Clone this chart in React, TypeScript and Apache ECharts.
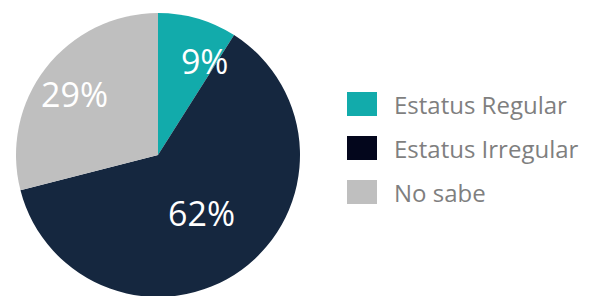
import React, { useEffect, useRef } from "react";
import * as echarts from "echarts";

const categories = ["Estatus Regular", "Estatus Irregular", "No sabe"];
const values = [9, 62, 29];
const sliceColors = ["#12abab", "#15273f", "#bfbfbf"];
const legendColors = ["#12abab", "#03061c", "#bfbfbf"];
const labelOffsets: [number, number][] = [[26, -23], [0, -2], [-25, -16]];

export default function App() {
  const ref = useRef<HTMLDivElement>(null);
  useEffect(() => {
    if (!ref.current) return;
    const chart = echarts.init(ref.current, null, { renderer: "svg" });
    chart.setOption({
      animation: false,
      backgroundColor: "#ffffff",
      legend: {
        orient: "vertical",
        left: 347,
        top: 92,
        padding: 0,
        itemWidth: 30,
        itemHeight: 24,
        itemGap: 20,
        icon: "rect",
        selectedMode: false,
        textStyle: {
          fontFamily: "Open Sans",
          fontSize: 24,
          color: "#7f7f7f",
          padding: [0, 0, 0, 12],
        },
        data: categories.map((c, i) => ({
          name: c,
          itemStyle: { color: legendColors[i] },
        })),
      },
      series: [
        {
          type: "pie",
          center: [158, 155],
          radius: 142,
          startAngle: 90,
          clockwise: true,
          label: {
            show: true,
            position: "inside",
            formatter: "{c}%",
            color: "#ffffff",
            fontFamily: "Open Sans",
            fontSize: 34,
          },
          labelLine: { show: false },
          emphasis: { disabled: true },
          itemStyle: { borderWidth: 0 },
          data: categories.map((c, i) => ({
            name: c,
            value: values[i],
            itemStyle: { color: sliceColors[i] },
            label: { offset: labelOffsets[i] },
          })),
        },
      ],
    });
    return () => chart.dispose();
  }, []);
  return (
    <div
      ref={ref}
      style={{ width: 592, height: 296, position: "absolute", left: 0, top: 0 }}
    />
  );
}
